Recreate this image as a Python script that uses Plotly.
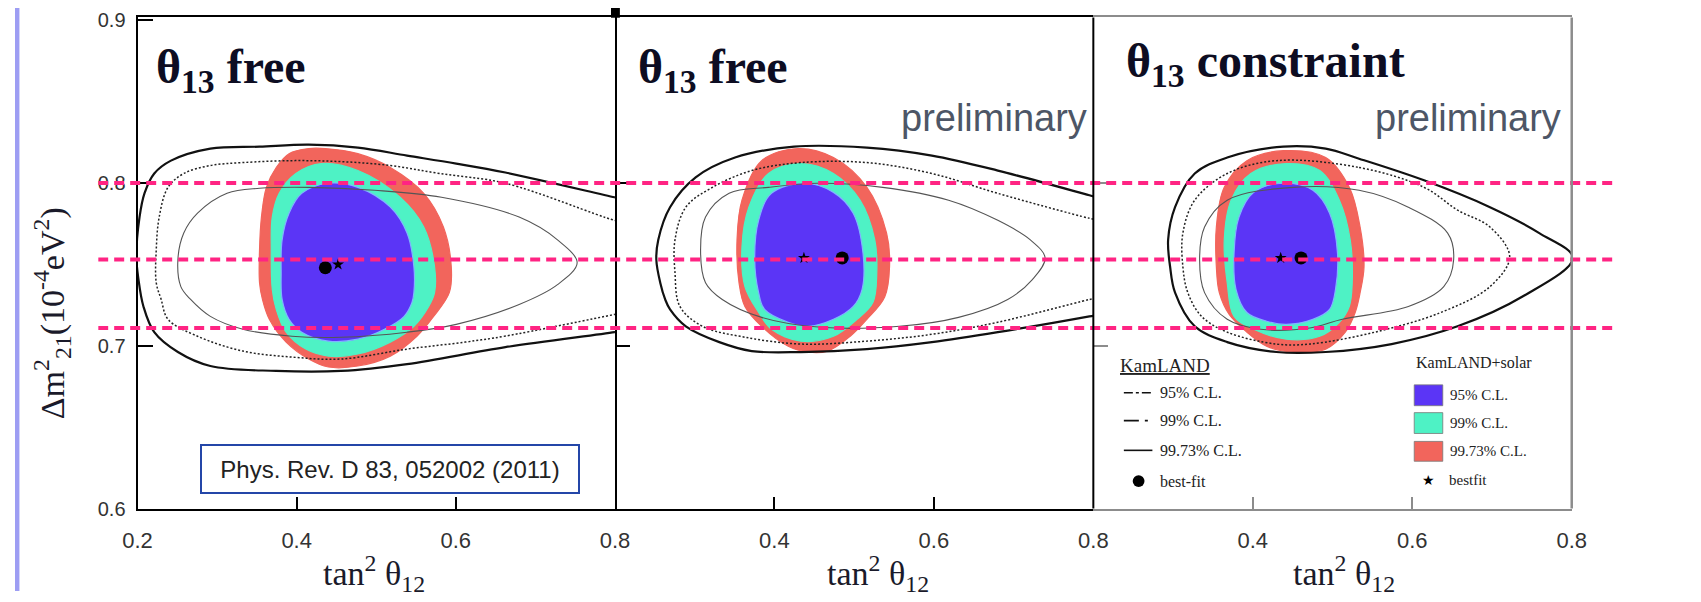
import plotly.graph_objects as go

W, H = 1701, 602

# screen position s of a figure pixel f is s = A * f + B; positions below
# are given as screen pixels and converted to figure fractions
A_X, B_X = 0.998, 1.5
A_Y, B_Y = 0.976, 6.2


def px_x(x):
    return max(0.0, (x - B_X) / A_X) / W


def px_y(y):
    return 1 - max(0.0, (y - B_Y) / A_Y) / H


# ---------------------------------------------------------------- data ----
X_RANGE = [0.2, 0.8]
Y_RANGE = [0.6, 0.9018]

X_TICKS_FIRST = [0.2, 0.4, 0.6, 0.8]
X_TICKS_NEXT = [0.4, 0.6, 0.8]
Y_TICKS = [0.6, 0.7, 0.8, 0.9]

# horizontal reference values of dm^2_21 (1e-4 eV^2)
DM2_REFERENCE = [0.800, 0.753, 0.711]

# best-fit points (tan^2 theta12, dm^2_21) per panel
BEST_KAMLAND = [(0.436, 0.748), (0.485, 0.754), (0.4605, 0.754)]
BEST_COMBINED = [(0.452, 0.750), (0.437, 0.754), (0.435, 0.754)]

# panel 1 : KamLAND 2011, theta13 free -- allowed-region boundaries
P1_KL_9973 = [(0.812, 0.7900), (0.7995, 0.7913), (0.6623, 0.8065), (0.6005, 0.8120),
              (0.5387, 0.8169), (0.4769, 0.8218), (0.4151, 0.8236), (0.3533, 0.8224),
              (0.2915, 0.8212), (0.2420, 0.8138), (0.2210, 0.8059), (0.2087, 0.7937),
              (0.2025, 0.7791), (0.1985, 0.7550), (0.2012, 0.7407), (0.2074, 0.7242),
              (0.2210, 0.7084), (0.2507, 0.6962), (0.2915, 0.6876), (0.3743, 0.6846),
              (0.4559, 0.6846), (0.5387, 0.6888), (0.6623, 0.6992), (0.7995, 0.7084),
              (0.812, 0.7095)]
P1_KL_99 = [(0.812, 0.7760), (0.7995, 0.7771), (0.6623, 0.7999), (0.5795, 0.8059),
            (0.5177, 0.8108), (0.4559, 0.8132), (0.3941, 0.8138), (0.3323, 0.8126),
            (0.2915, 0.8108), (0.2581, 0.8059), (0.2383, 0.7974), (0.2272, 0.7791),
            (0.2235, 0.7590), (0.2235, 0.7388), (0.2297, 0.7285), (0.2383, 0.7163),
            (0.2754, 0.7059), (0.3323, 0.6968), (0.3941, 0.6931), (0.4559, 0.6919),
            (0.5387, 0.6980), (0.6116, 0.7023), (0.6623, 0.7060), (0.7995, 0.7193),
            (0.812, 0.7205)]
P1_KL_95 = [(0.2754, 0.7815), (0.3125, 0.7937), (0.3533, 0.7968), (0.4151, 0.7974),
            (0.4979, 0.7956), (0.5820, 0.7913), (0.6796, 0.7791), (0.7278, 0.7651),
            (0.7525, 0.7510), (0.7278, 0.7376), (0.6796, 0.7254), (0.6005, 0.7132),
            (0.5387, 0.7084), (0.4559, 0.7053), (0.3941, 0.7059), (0.3323, 0.7102),
            (0.2915, 0.7181), (0.2667, 0.7285), (0.2544, 0.7364), (0.2507, 0.7529),
            (0.2581, 0.7693)]
P1_KLS_9973 = [(0.4151, 0.8212), (0.4361, 0.8212), (0.4769, 0.8181), (0.5177, 0.8096),
               (0.5597, 0.7937), (0.5844, 0.7730), (0.5943, 0.7486), (0.5918, 0.7327),
               (0.5721, 0.7181), (0.5511, 0.7059), (0.5177, 0.6937), (0.4769, 0.6876),
               (0.4398, 0.6870), (0.4151, 0.6919), (0.3867, 0.7023), (0.3656, 0.7163),
               (0.3570, 0.7285), (0.3533, 0.7388), (0.3533, 0.7590), (0.3557, 0.7791),
               (0.3619, 0.7974), (0.3743, 0.8096), (0.3904, 0.8181)]
P1_KLS_99 = [(0.4311, 0.8120), (0.4769, 0.8077), (0.5300, 0.7913), (0.5597, 0.7730),
             (0.5733, 0.7486), (0.5733, 0.7327), (0.5659, 0.7242), (0.5473, 0.7120),
             (0.5177, 0.7023), (0.4769, 0.6950), (0.4398, 0.6937), (0.4114, 0.6980),
             (0.3867, 0.7084), (0.3743, 0.7224), (0.3693, 0.7346), (0.3681, 0.7590),
             (0.3693, 0.7791), (0.3780, 0.7937), (0.3990, 0.8059)]
P1_KLS_95 = [(0.4398, 0.7999), (0.4769, 0.7974), (0.5177, 0.7852), (0.5387, 0.7693),
             (0.5473, 0.7486), (0.5473, 0.7327), (0.5449, 0.7266), (0.5350, 0.7181),
             (0.5103, 0.7102), (0.4769, 0.7041), (0.4398, 0.7029), (0.4064, 0.7084),
             (0.3904, 0.7163), (0.3817, 0.7285), (0.3805, 0.7449), (0.3817, 0.7651),
             (0.3904, 0.7815), (0.4064, 0.7937)]

# panel 2 : preliminary, theta13 free
P2_KL_9973 = [(0.810, 0.7905), (0.7951, 0.7925), (0.6802, 0.8077), (0.5975, 0.8169),
              (0.5160, 0.8218), (0.4247, 0.8224), (0.3506, 0.8157), (0.3012, 0.8035),
              (0.2691, 0.7852), (0.2543, 0.7651), (0.2519, 0.7529), (0.2568, 0.7388),
              (0.2630, 0.7285), (0.2691, 0.7224), (0.2889, 0.7120), (0.3309, 0.7023),
              (0.3716, 0.6968), (0.4333, 0.6962), (0.5160, 0.6980), (0.5975, 0.7023),
              (0.6802, 0.7084), (0.7951, 0.7181), (0.810, 0.7195)]
P2_KL_99 = [(0.810, 0.7770), (0.7951, 0.7784), (0.6802, 0.7937), (0.5975, 0.8059),
            (0.5160, 0.8126), (0.4333, 0.8126), (0.3716, 0.8077), (0.3222, 0.7974),
            (0.2889, 0.7852), (0.2753, 0.7651), (0.2753, 0.7449), (0.2815, 0.7242),
            (0.3099, 0.7120), (0.3630, 0.7053), (0.4333, 0.7011), (0.5160, 0.7029),
            (0.5975, 0.7071), (0.6802, 0.7145), (0.7951, 0.7285), (0.810, 0.7300)]
P2_KL_95 = [(0.3926, 0.7974), (0.4543, 0.7999), (0.5358, 0.7974), (0.6185, 0.7895),
            (0.6802, 0.7771), (0.7210, 0.7651), (0.7395, 0.7540), (0.7235, 0.7407),
            (0.6926, 0.7285), (0.6309, 0.7175), (0.5568, 0.7120), (0.4580, 0.7114),
            (0.3840, 0.7175), (0.3346, 0.7285), (0.3136, 0.7388), (0.3074, 0.7590),
            (0.3136, 0.7791), (0.3432, 0.7937)]
P2_KLS_9973 = [(0.4296, 0.8212), (0.4741, 0.8157), (0.5160, 0.7974), (0.5407, 0.7693),
               (0.5444, 0.7486), (0.5383, 0.7300), (0.5160, 0.7163), (0.4951, 0.7059),
               (0.4667, 0.6968), (0.4420, 0.6962), (0.4173, 0.6998), (0.3840, 0.7120),
               (0.3630, 0.7242), (0.3556, 0.7388), (0.3531, 0.7651), (0.3593, 0.7895),
               (0.3840, 0.8138)]
P2_KLS_99 = [(0.4333, 0.8120), (0.4741, 0.8059), (0.5074, 0.7895), (0.5259, 0.7651),
             (0.5284, 0.7449), (0.5235, 0.7266), (0.5037, 0.7163), (0.4741, 0.7059),
             (0.4333, 0.7029), (0.3963, 0.7102), (0.3802, 0.7205), (0.3630, 0.7364),
             (0.3593, 0.7607), (0.3679, 0.7852), (0.3926, 0.8059)]
P2_KLS_95 = [(0.4370, 0.7999), (0.4741, 0.7943), (0.4988, 0.7815), (0.5111, 0.7571),
             (0.5099, 0.7346), (0.4988, 0.7242), (0.4741, 0.7163), (0.4420, 0.7120),
             (0.4173, 0.7145), (0.3877, 0.7224), (0.3802, 0.7327), (0.3753, 0.7529),
             (0.3802, 0.7771), (0.3963, 0.7937)]

# panel 3 : preliminary, theta13 constrained
P3_KL_9973 = [(0.4383, 0.8224), (0.4914, 0.8212), (0.5333, 0.8150), (0.6148, 0.8017),
              (0.6975, 0.7852), (0.7593, 0.7693), (0.8015, 0.7540), (0.7383, 0.7303),
              (0.6568, 0.7120), (0.5741, 0.7011), (0.4914, 0.6962), (0.4296, 0.6962),
              (0.3679, 0.7023), (0.3272, 0.7120), (0.3025, 0.7327), (0.2963, 0.7486),
              (0.2938, 0.7651), (0.3025, 0.7852), (0.3272, 0.8059), (0.3679, 0.8157)]
P3_KL_99 = [(0.4296, 0.8138), (0.5333, 0.8096), (0.6148, 0.7974), (0.6568, 0.7834),
            (0.6975, 0.7730), (0.7222, 0.7547), (0.6975, 0.7364), (0.6358, 0.7205),
            (0.5531, 0.7084), (0.4716, 0.7011), (0.4296, 0.7011), (0.3679, 0.7084),
            (0.3358, 0.7181), (0.3185, 0.7327), (0.3123, 0.7486), (0.3123, 0.7693),
            (0.3272, 0.7895), (0.3679, 0.8059)]
P3_KL_95 = [(0.4506, 0.7974), (0.5333, 0.7956), (0.5951, 0.7852), (0.6444, 0.7693),
            (0.6519, 0.7529), (0.6395, 0.7364), (0.5951, 0.7242), (0.5123, 0.7163),
            (0.4716, 0.7110), (0.4099, 0.7102), (0.3679, 0.7163), (0.3395, 0.7327),
            (0.3333, 0.7529), (0.3395, 0.7730), (0.3679, 0.7895)]
P3_KLS_9973 = [(0.4383, 0.8199), (0.4914, 0.8157), (0.5210, 0.7974), (0.5346, 0.7730),
               (0.5395, 0.7486), (0.5346, 0.7327), (0.5284, 0.7205), (0.5160, 0.7084),
               (0.4914, 0.6980), (0.4506, 0.6962), (0.4173, 0.6998), (0.3926, 0.7084),
               (0.3704, 0.7193), (0.3580, 0.7327), (0.3543, 0.7486), (0.3543, 0.7730),
               (0.3642, 0.7974), (0.3926, 0.8138)]
P3_KLS_99 = [(0.4420, 0.8120), (0.4840, 0.8077), (0.5086, 0.7895), (0.5222, 0.7651),
             (0.5247, 0.7388), (0.5210, 0.7242), (0.5086, 0.7145), (0.4840, 0.7059),
             (0.4420, 0.7041), (0.4012, 0.7102), (0.3765, 0.7181), (0.3679, 0.7388),
             (0.3642, 0.7651), (0.3728, 0.7895), (0.3975, 0.8059)]
P3_KLS_95 = [(0.4383, 0.7999), (0.4753, 0.7956), (0.4963, 0.7815), (0.5062, 0.7571),
             (0.5037, 0.7346), (0.4963, 0.7224), (0.4753, 0.7163), (0.4420, 0.7132),
             (0.4173, 0.7151), (0.3926, 0.7205), (0.3790, 0.7346), (0.3765, 0.7571),
             (0.3827, 0.7791), (0.4012, 0.7943)]

PANEL_TITLES = ["<b>θ<sub>13</sub> free</b>", "<b>θ<sub>13</sub> free</b>",
                "<b>θ<sub>13</sub> constraint</b>"]

# ------------------------------------------------------------- styling ----
SERIF = "Liberation Serif"
SANS = "Liberation Sans"
C_95, C_99, C_9973 = "#5b35f6", "#4ef2c5", "#f2655c"
PINK = "#ff2483"
FRAME_GREY = "#8c8c8c"

PANEL_PX = [(126, 611), (611, 1097), (1097, 1583)]
TOP_PX, BOTTOM_PX = 15.7, 510.7
Y_DOMAIN = [px_y(BOTTOM_PX), px_y(TOP_PX)]

fig = go.Figure()
AX = [("x", "y"), ("x2", "y2"), ("x3", "y3")]


def xy(pts, closed):
    xs = [p[0] for p in pts]
    ys = [p[1] for p in pts]
    if closed:
        xs, ys = xs + xs[:1], ys + ys[:1]
    return xs, ys


def region(pts, color, i, edge=None):
    xs, ys = xy(pts, True)
    fig.add_trace(go.Scatter(
        x=xs, y=ys, mode="lines", fill="toself", fillcolor=color,
        line=dict(color=edge or color, width=1.2, shape="spline", smoothing=1.0),
        xaxis=AX[i][0], yaxis=AX[i][1], hoverinfo="skip", showlegend=False))


def contour(pts, closed, i, color, width, dash):
    xs, ys = xy(pts, closed)
    fig.add_trace(go.Scatter(
        x=xs, y=ys, mode="lines",
        line=dict(color=color, width=width, dash=dash, shape="spline", smoothing=1.0),
        xaxis=AX[i][0], yaxis=AX[i][1], hoverinfo="skip", showlegend=False))


panels = [
    (P1_KLS_9973, P1_KLS_99, P1_KLS_95, P1_KL_9973, P1_KL_99, P1_KL_95, False),
    (P2_KLS_9973, P2_KLS_99, P2_KLS_95, P2_KL_9973, P2_KL_99, P2_KL_95, False),
    (P3_KLS_9973, P3_KLS_99, P3_KLS_95, P3_KL_9973, P3_KL_99, P3_KL_95, True),
]

for i, (r3, r2, r1, k3, k2, k1, outer_closed) in enumerate(panels):
    # KamLAND + solar allowed regions
    region(r3, C_9973, i)
    region(r2, C_99, i)
    region(r1, C_95, i, edge="#7fb4ff")
    # KamLAND-only contours
    contour(k1, True, i, "#555555", 1.1, "solid")
    contour(k2, outer_closed, i, "#222222", 1.5, "2px,2px")
    contour(k3, outer_closed, i, "#111111", 2.2, "solid")
    # best-fit points
    fig.add_trace(go.Scatter(
        x=[BEST_COMBINED[i][0]], y=[BEST_COMBINED[i][1]], mode="markers",
        marker=dict(symbol="star", size=9, color="black"),
        xaxis=AX[i][0], yaxis=AX[i][1], hoverinfo="skip", showlegend=False))
    fig.add_trace(go.Scatter(
        x=[BEST_KAMLAND[i][0]], y=[BEST_KAMLAND[i][1]], mode="markers",
        marker=dict(symbol="circle", size=13, color="black"),
        xaxis=AX[i][0], yaxis=AX[i][1], hoverinfo="skip", showlegend=False))

# dashed reference levels spanning all three panels
for v in DM2_REFERENCE:
    fig.add_trace(go.Scatter(
        x=[0, 1], y=[v, v], mode="lines",
        line=dict(color=PINK, width=4, dash="10px,6px"),
        xaxis="x4", yaxis="y4", hoverinfo="skip", showlegend=False))

# --------------------------------------------------------------- axes -----
tickfont_x = dict(family=SANS, size=22, color="#333333")
tickfont_y = dict(family=SANS, size=20, color="#333333")


def xaxis(i, tickvals, line_color):
    a, b = PANEL_PX[i]
    return dict(
        domain=[px_x(a), px_x(b)], range=X_RANGE, anchor=AX[i][1],
        showgrid=False, zeroline=False,
        showline=True, mirror=True, linecolor=line_color, linewidth=2,
        ticks="inside", ticklen=12, tickwidth=2, tickcolor=line_color,
        tickvals=tickvals, ticktext=[f"{t:.1f}" for t in tickvals],
        tickfont=tickfont_x, ticklabelstandoff=11, ticklabeloverflow="allow",
    )


def yaxis(i, show_labels, line_color, show_line):
    return dict(
        domain=Y_DOMAIN, range=Y_RANGE, anchor=AX[i][0],
        showgrid=False, zeroline=False,
        showline=show_line, mirror=True, linecolor=line_color, linewidth=2,
        ticks="inside", ticklen=15, tickwidth=2, tickcolor=line_color,
        tickvals=Y_TICKS if show_labels else [0.7, 0.8],
        ticktext=[f"{t:.1f}" for t in Y_TICKS] if show_labels else ["", ""],
        showticklabels=show_labels, tickfont=tickfont_y, ticklabelstandoff=6,
        ticklabeloverflow="allow",
    )


layout = dict(
    width=W, height=H, autosize=False,
    margin=dict(l=0, r=0, t=0, b=0),
    paper_bgcolor="white", plot_bgcolor="rgba(0,0,0,0)",
    showlegend=False,
    xaxis=xaxis(0, X_TICKS_FIRST, "black"),
    yaxis=yaxis(0, True, "black", True),
    xaxis2=xaxis(1, X_TICKS_NEXT, "black"),
    yaxis2=yaxis(1, False, "black", False),
    xaxis3=xaxis(2, X_TICKS_NEXT, FRAME_GREY),
    yaxis3=yaxis(2, False, FRAME_GREY, False),
    xaxis4=dict(domain=[px_x(86), px_x(1628)], range=[0, 1], anchor="y4", visible=False),
    yaxis4=dict(domain=Y_DOMAIN, range=Y_RANGE, anchor="x4", visible=False),
)
fig.update_layout(**layout)

# --------------------------------------------------------------- shapes ---
shapes = [
    # slide edge strip
    dict(type="rect", xref="paper", yref="paper", x0=0, x1=px_x(6), y0=0, y1=1,
         fillcolor="#9d9df3", line=dict(width=0), layer="below"),
    # divider stub above the panels
    dict(type="rect", xref="paper", yref="paper", x0=px_x(607), x1=px_x(616),
         y0=px_y(16), y1=1, fillcolor="black", line=dict(width=0)),
    # shared edge between the second and third panel
    dict(type="line", xref="x2 domain", yref="y2 domain", x0=1, x1=1, y0=0, y1=1,
         line=dict(color="black", width=2)),
    # right frame of the third panel
    dict(type="line", xref="x3 domain", yref="y3 domain", x0=1, x1=1, y0=0, y1=1,
         line=dict(color=FRAME_GREY, width=2.5)),
]

ann = []


def text(x, y, s, size, family=SERIF, color="#111111", xanchor="left", yanchor="middle", **kw):
    ann.append(dict(x=px_x(x), y=px_y(y), xref="paper", yref="paper", text=s,
                    showarrow=False, xanchor=xanchor, yanchor=yanchor,
                    font=dict(family=family, size=size, color=color), **kw))


# panel headings
text(143, 69, PANEL_TITLES[0], 48, color="#0d0d22")
text(632, 69, PANEL_TITLES[1], 48, color="#0d0d22")
text(1128, 63, PANEL_TITLES[2], 48, color="#0d0d22")
text(1093, 117, "preliminary", 38, family=SANS, color="#4d5666", xanchor="right")
text(1574, 117, "preliminary", 38, family=SANS, color="#4d5666", xanchor="right")

# axis titles
for cx in (366, 878, 1352):
    text(cx, 576, "tan<sup>2</sup> θ<sub>12</sub>", 34, color="#1a1a2a", xanchor="center")
text(39, 314, "Δm<sup>2</sup><sub>21</sub>(10<sup>-4</sup>eV<sup>2</sup>)", 34,
     color="#1a1a2a", xanchor="center", textangle=-90)

# reference box
ann.append(dict(x=px_x(382), y=px_y(471), xref="paper", yref="paper",
                text="Phys. Rev. D 83, 052002 (2011)", showarrow=False,
                xanchor="center", yanchor="middle", width=374, height=44,
                bordercolor="#2446a8", borderwidth=2, borderpad=1, bgcolor="white",
                font=dict(family=SANS, size=24, color="#222222")))

# KamLAND legend
text(1122, 366, "<u>KamLAND</u>", 19, color="#222222")
for yy, dash, lab in ((394, "dashdot", "95% C.L."), (422, "longdashdot", "99% C.L."),
                      (452, "solid", "99.73% C.L.")):
    shapes.append(dict(type="line", xref="paper", yref="paper",
                       x0=px_x(1128), x1=px_x(1157), y0=px_y(yy), y1=px_y(yy),
                       line=dict(color="#111111", width=1.6, dash=dash)))
    text(1163, yy, lab, 16, color="#222222")
shapes.append(dict(type="circle", xref="paper", yref="paper",
                   x0=px_x(1137), x1=px_x(1149), y0=px_y(489), y1=px_y(477),
                   fillcolor="black", line=dict(width=0)))
text(1163, 483, "best-fit", 16, color="#222222")

# KamLAND + solar legend
text(1423, 363, "KamLAND+solar", 16, color="#222222")
for (y0, y1), col, lab in (((386, 407), C_95, "95% C.L."), ((414, 435), C_99, "99% C.L."),
                           ((443, 463), C_9973, "99.73% C.L.")):
    shapes.append(dict(type="rect", xref="paper", yref="paper",
                       x0=px_x(1423), x1=px_x(1452), y0=px_y(y1), y1=px_y(y0),
                       fillcolor=col, line=dict(color="#777777", width=0.8)))
    text(1457, (y0 + y1) / 2, lab, 15, color="#222222")
text(1437, 482, "★", 14, color="black", xanchor="center")
text(1456, 482, "bestfit", 15, color="#222222")

fig.update_layout(shapes=shapes, annotations=ann)

fig.write_html("out.html", post_script="document.body.style.margin = '0px';")
